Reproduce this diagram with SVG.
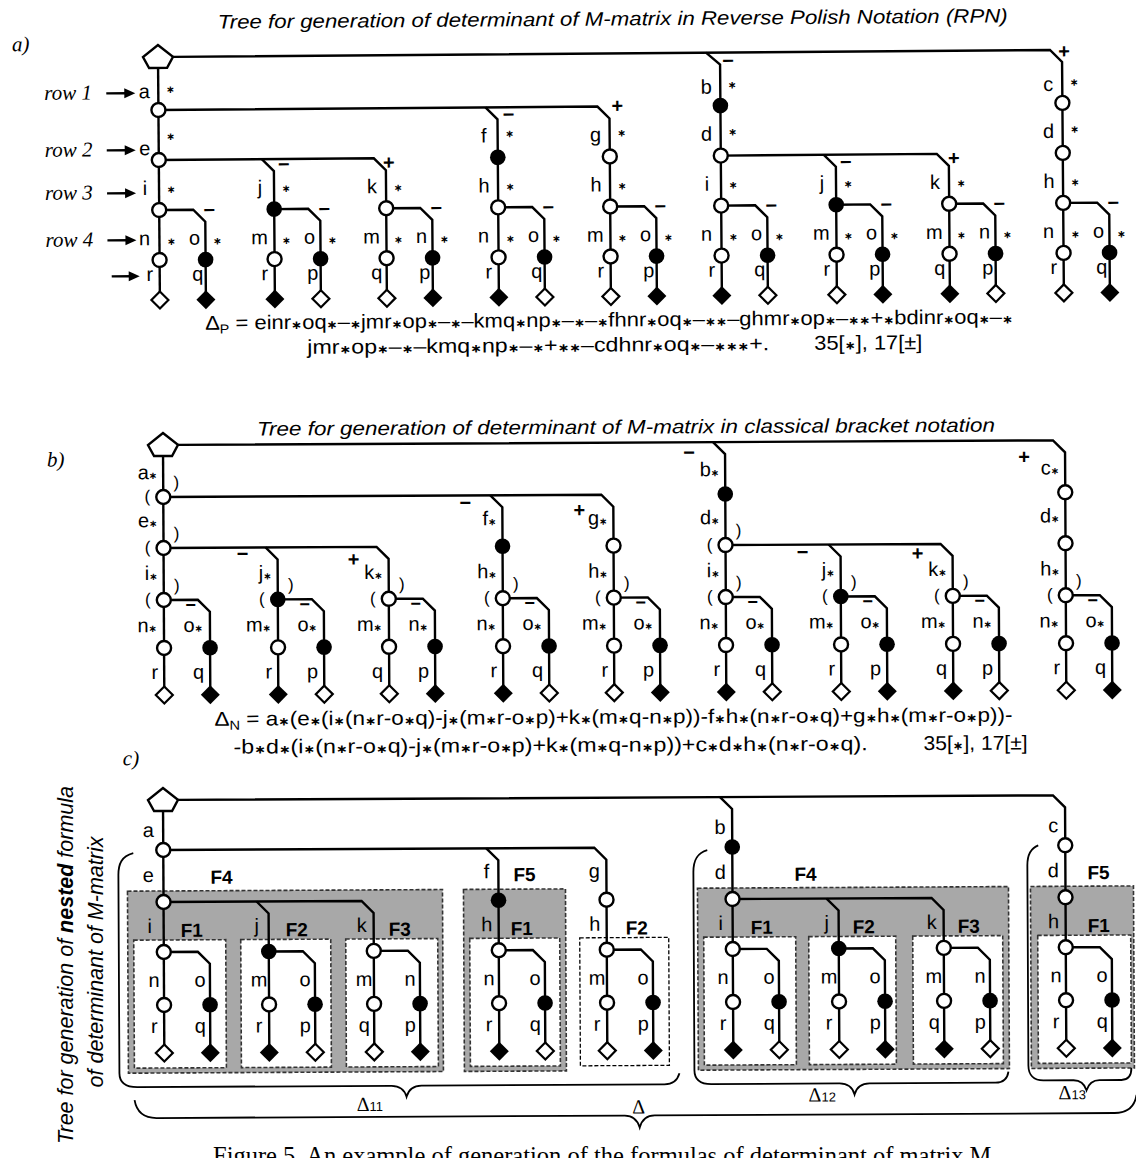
<svg xmlns="http://www.w3.org/2000/svg" xmlns:xlink="http://www.w3.org/1999/xlink" width="1136" height="1158" viewBox="0 0 1136 1158">
<style>
.c{fill:none;stroke:#000;stroke-width:2.4}
.L{font-family:"Liberation Sans",Arial,sans-serif;font-size:20px;fill:#000}
.m{text-anchor:middle}
.e{text-anchor:end}
.s{font-family:"DejaVu Sans",sans-serif;font-size:10.5px;font-weight:bold;text-anchor:middle}
.sm{font-family:"DejaVu Sans",sans-serif;font-size:10px;font-weight:bold}
.x{font-family:"DejaVu Sans",sans-serif;font-size:12px;font-weight:bold}
.sg{font-family:"Liberation Sans",Arial,sans-serif;font-size:20px;font-weight:bold;text-anchor:middle}
.sg2{font-family:"Liberation Sans",Arial,sans-serif;font-size:18px;font-weight:bold;text-anchor:middle}
.pr{font-family:"Liberation Sans",Arial,sans-serif;font-size:17px;text-anchor:middle}
.ti{font-family:"Liberation Sans",Arial,sans-serif;font-style:italic;font-size:19.5px}
.rw{font-family:"Liberation Serif","Times New Roman",serif;font-style:italic;font-size:21px}
.fm{font-family:"Liberation Sans",Arial,sans-serif;font-size:20px}
.F{font-family:"Liberation Sans",Arial,sans-serif;font-weight:bold;font-size:19px}
.gb{fill:#a8a8a8;stroke:#333;stroke-width:1.6;stroke-dasharray:4 2}
.wb{fill:#fff;stroke:#333;stroke-width:1.6;stroke-dasharray:4 2}
.dl{font-family:"Liberation Serif","Times New Roman",serif;font-size:20px}
.ds{font-family:"Liberation Sans",Arial,sans-serif;font-size:13px}
</style>
<defs>
<path id="pent" d="M0,-12 L15,0 L9,11 L-9,11 L-15,0 Z" fill="#fff" stroke="#000" stroke-width="2.4"/>
<circle id="oc" r="7" fill="#fff" stroke="#000" stroke-width="2.4"/>
<circle id="fc" r="7.8" fill="#000"/>
<path id="od" d="M0,-8.5 L8.5,0 L0,8.5 L-8.5,0 Z" fill="#fff" stroke="#000" stroke-width="2.2"/>
<path id="fd" d="M0,-9.5 L9.5,0 L0,9.5 L-9.5,0 Z" fill="#000"/>
</defs>

<!-- ================= PART A ================= -->
<g id="part-a" transform="rotate(-0.45 158 57)">
<text class="ti" x="218" y="29" textLength="790" lengthAdjust="spacingAndGlyphs">Tree for generation of determinant of M-matrix in Reverse Polish Notation (RPN)</text>
<text class="rw" x="12" y="50">a)</text>
<g id="A-rowlabels">
<text class="rw" x="44" y="99">row 1</text><path class="c" d="M106,93 H127"/><path d="M124,88 L135,93 L124,98 Z"/>
<text class="rw" x="44" y="156">row 2</text><path class="c" d="M106,150 H127"/><path d="M124,145 L135,150 L124,155 Z"/>
<text class="rw" x="44" y="199">row 3</text><path class="c" d="M106,193 H127"/><path d="M124,188 L135,193 L124,198 Z"/>
<text class="rw" x="44" y="246">row 4</text><path class="c" d="M106,240 H127"/><path d="M124,235 L135,240 L124,245 Z"/>
<path class="c" d="M110,276 H130"/><path d="M127,271 L138,276 L127,281 Z"/>
</g>
<g id="A-connectors">
<path class="c" d="M173,57 H1050 L1062,69 V300"/>
<path class="c" d="M706,57 L720,69 V300"/>
<path class="c" d="M158,68 V300"/>
<path class="c" d="M158,110 H597 L609,122 V300"/>
<path class="c" d="M485,110 L497,122 V300"/>
<path class="c" d="M158,160 H373 L385,172 V300"/>
<path class="c" d="M261,160 L273,172 V300"/>
<path class="c" d="M720,160 H936 L948,172 V300"/>
<path class="c" d="M823,160 L835,172 V300"/>
<path class="c" d="M158,210 H192 L204,222 V300"/>
<path class="c" d="M273,210 H307 L319,222 V300"/>
<path class="c" d="M385,210 H419 L431,222 V300"/>
<path class="c" d="M497,210 H531 L543,222 V300"/>
<path class="c" d="M609,210 H643 L655,222 V300"/>
<path class="c" d="M720,210 H754 L766,222 V300"/>
<path class="c" d="M835,210 H869 L881,222 V300"/>
<path class="c" d="M948,210 H982 L994,222 V300"/>
<path class="c" d="M1062,210 H1096 L1108,222 V300"/>
</g>
<g id="A-nodes">
<g id="A-root"><use href="#pent" x="158" y="57"/></g>
<g id="A-a"><use href="#oc" x="158" y="110"/></g>
<g id="A-e"><use href="#oc" x="158" y="160"/></g>
<g id="A-f"><use href="#fc" x="497" y="160"/></g>
<g id="A-g"><use href="#oc" x="609" y="160"/></g>
<g id="A-b"><use href="#fc" x="720" y="110"/></g>
<g id="A-bd"><use href="#oc" x="720" y="160"/></g>
<g id="A-c"><use href="#oc" x="1062" y="110"/></g>
<g id="A-cd"><use href="#oc" x="1062" y="160"/></g>
<g id="A-i"><use href="#oc" x="158" y="210"/></g>
<g id="A-i-n"><use href="#oc" x="158" y="260"/></g>
<g id="A-i-r"><use href="#od" x="158" y="300"/></g>
<g id="A-i-o"><use href="#fc" x="204" y="260"/></g>
<g id="A-i-q"><use href="#fd" x="204" y="300"/></g>
<g id="A-j"><use href="#fc" x="273" y="210"/></g>
<g id="A-j-m"><use href="#oc" x="273" y="260"/></g>
<g id="A-j-r"><use href="#fd" x="273" y="300"/></g>
<g id="A-j-o"><use href="#fc" x="319" y="260"/></g>
<g id="A-j-p"><use href="#od" x="319" y="300"/></g>
<g id="A-k"><use href="#oc" x="385" y="210"/></g>
<g id="A-k-m"><use href="#oc" x="385" y="260"/></g>
<g id="A-k-q"><use href="#od" x="385" y="300"/></g>
<g id="A-k-n"><use href="#fc" x="431" y="260"/></g>
<g id="A-k-p"><use href="#fd" x="431" y="300"/></g>
<g id="A-fh"><use href="#oc" x="497" y="210"/></g>
<g id="A-fh-n"><use href="#oc" x="497" y="260"/></g>
<g id="A-fh-r"><use href="#fd" x="497" y="300"/></g>
<g id="A-fh-o"><use href="#fc" x="543" y="260"/></g>
<g id="A-fh-q"><use href="#od" x="543" y="300"/></g>
<g id="A-gh"><use href="#oc" x="609" y="210"/></g>
<g id="A-gh-m"><use href="#oc" x="609" y="260"/></g>
<g id="A-gh-r"><use href="#od" x="609" y="300"/></g>
<g id="A-gh-o"><use href="#fc" x="655" y="260"/></g>
<g id="A-gh-p"><use href="#fd" x="655" y="300"/></g>
<g id="A-bi"><use href="#oc" x="720" y="210"/></g>
<g id="A-bi-n"><use href="#oc" x="720" y="260"/></g>
<g id="A-bi-r"><use href="#fd" x="720" y="300"/></g>
<g id="A-bi-o"><use href="#fc" x="766" y="260"/></g>
<g id="A-bi-q"><use href="#od" x="766" y="300"/></g>
<g id="A-bj"><use href="#fc" x="835" y="210"/></g>
<g id="A-bj-m"><use href="#oc" x="835" y="260"/></g>
<g id="A-bj-r"><use href="#od" x="835" y="300"/></g>
<g id="A-bj-o"><use href="#fc" x="881" y="260"/></g>
<g id="A-bj-p"><use href="#fd" x="881" y="300"/></g>
<g id="A-bk"><use href="#oc" x="948" y="210"/></g>
<g id="A-bk-m"><use href="#oc" x="948" y="260"/></g>
<g id="A-bk-q"><use href="#fd" x="948" y="300"/></g>
<g id="A-bk-n"><use href="#fc" x="994" y="260"/></g>
<g id="A-bk-p"><use href="#od" x="994" y="300"/></g>
<g id="A-ch"><use href="#oc" x="1062" y="210"/></g>
<g id="A-ch-n"><use href="#oc" x="1062" y="260"/></g>
<g id="A-ch-r"><use href="#od" x="1062" y="300"/></g>
<g id="A-ch-o"><use href="#fc" x="1108" y="260"/></g>
<g id="A-ch-q"><use href="#fd" x="1108" y="300"/></g>
</g>
<g id="A-labels" class="L m">
<text x="144" y="98">a</text><text x="706" y="98">b</text><text x="1048" y="98">c</text>
<text x="144" y="155">e</text><text x="483" y="145">f</text><text x="595" y="145">g</text><text x="706" y="145">d</text><text x="1048" y="145">d</text>
<text x="144" y="195">i</text><text x="259" y="195">j</text><text x="371" y="195">k</text><text x="483" y="195">h</text><text x="595" y="195">h</text><text x="706" y="195">i</text><text x="821" y="195">j</text><text x="934" y="195">k</text><text x="1048" y="195">h</text>
<text x="143" y="245">n</text><text x="258" y="245">m</text><text x="370" y="245">m</text><text x="482" y="245">n</text><text x="594" y="245">m</text><text x="705" y="245">n</text><text x="820" y="245">m</text><text x="933" y="245">m</text><text x="1047" y="245">n</text>
<text x="193" y="245">o</text><text x="308" y="245">o</text><text x="420" y="245">n</text><text x="532" y="245">o</text><text x="644" y="245">o</text><text x="755" y="245">o</text><text x="870" y="245">o</text><text x="983" y="245">n</text><text x="1097" y="245">o</text>
<text x="148" y="281">r</text><text x="263" y="281">r</text><text x="375" y="281">q</text><text x="487" y="281">r</text><text x="599" y="281">r</text><text x="710" y="281">r</text><text x="825" y="281">r</text><text x="938" y="281">q</text><text x="1052" y="281">r</text>
<text x="196" y="281">q</text><text x="311" y="281">p</text><text x="423" y="281">p</text><text x="535" y="281">q</text><text x="647" y="281">p</text><text x="758" y="281">q</text><text x="873" y="281">p</text><text x="986" y="281">p</text><text x="1100" y="281">q</text>
</g>
<g id="A-stars" class="s">
<text x="170" y="93">∗</text><text x="732" y="93">∗</text><text x="1074" y="93">∗</text>
<text x="170" y="140">∗</text><text x="509" y="140">∗</text><text x="621" y="140">∗</text><text x="732" y="140">∗</text><text x="1074" y="140">∗</text>
<text x="170" y="193">∗</text><text x="285" y="193">∗</text><text x="397" y="193">∗</text><text x="509" y="193">∗</text><text x="621" y="193">∗</text><text x="732" y="193">∗</text><text x="847" y="193">∗</text><text x="960" y="193">∗</text><text x="1074" y="193">∗</text>
<text x="170" y="245">∗</text><text x="285" y="245">∗</text><text x="397" y="245">∗</text><text x="509" y="245">∗</text><text x="621" y="245">∗</text><text x="732" y="245">∗</text><text x="847" y="245">∗</text><text x="960" y="245">∗</text><text x="1074" y="245">∗</text>
<text x="216" y="245">∗</text><text x="331" y="245">∗</text><text x="443" y="245">∗</text><text x="555" y="245">∗</text><text x="667" y="245">∗</text><text x="778" y="245">∗</text><text x="893" y="245">∗</text><text x="1006" y="245">∗</text><text x="1120" y="245">∗</text>
</g>
<g id="A-signs" class="sg">
<text x="728" y="72">−</text><text x="508" y="124">−</text><text x="283" y="172">−</text><text x="845" y="174">−</text>
<text x="208" y="217">−</text><text x="323" y="217">−</text><text x="435" y="217">−</text><text x="547" y="217">−</text><text x="659" y="217">−</text><text x="770" y="217">−</text><text x="885" y="217">−</text><text x="998" y="217">−</text><text x="1112" y="217">−</text>
<text x="1064" y="65">+</text><text x="617" y="116">+</text><text x="388" y="171">+</text><text x="953" y="171">+</text>
</g>
<g id="A-formula" class="fm">
<text x="203" y="330" textLength="808" lengthAdjust="spacingAndGlyphs">Δ<tspan font-size="13" dy="4">P</tspan><tspan dy="-4"> = einr<tspan class="x">∗</tspan>oq<tspan class="x">∗</tspan>–<tspan class="x">∗</tspan>jmr<tspan class="x">∗</tspan>op<tspan class="x">∗</tspan>–<tspan class="x">∗</tspan>–kmq<tspan class="x">∗</tspan>np<tspan class="x">∗</tspan>–<tspan class="x">∗</tspan>–<tspan class="x">∗</tspan>fhnr<tspan class="x">∗</tspan>oq<tspan class="x">∗</tspan>–<tspan class="x">∗∗</tspan>–ghmr<tspan class="x">∗</tspan>op<tspan class="x">∗</tspan>–<tspan class="x">∗∗</tspan>+<tspan class="x">∗</tspan>bdinr<tspan class="x">∗</tspan>oq<tspan class="x">∗</tspan>–<tspan class="x">∗</tspan></tspan></text>
<text x="305" y="355" textLength="462" lengthAdjust="spacingAndGlyphs">jmr<tspan class="x">∗</tspan>op<tspan class="x">∗</tspan>–<tspan class="x">∗</tspan>–kmq<tspan class="x">∗</tspan>np<tspan class="x">∗</tspan>–<tspan class="x">∗</tspan>+<tspan class="x">∗∗</tspan>–cdhnr<tspan class="x">∗</tspan>oq<tspan class="x">∗</tspan>–<tspan class="x">∗∗∗</tspan>+.</text>
<text x="812" y="355" textLength="108" lengthAdjust="spacingAndGlyphs">35[<tspan class="x">∗</tspan>], 17[±]</text>
</g>
</g>

<!-- ================= PART B ================= -->
<g id="part-b" transform="rotate(-0.3 163 445)">
<text class="ti" x="257" y="436" textLength="738" lengthAdjust="spacingAndGlyphs">Tree for generation of determinant of M-matrix in classical bracket notation</text>
<text class="rw" x="47" y="466">b)</text>
<g id="B-connectors">
<path class="c" d="M178,445 H1053 L1065,457 V695"/>
<path class="c" d="M713,445 L725,457 V695"/>
<path class="c" d="M163,456 V695"/>
<path class="c" d="M163,497 H601 L613,509 V695"/>
<path class="c" d="M490,497 L502,509 V695"/>
<path class="c" d="M163,548 H376 L388,560 V695"/>
<path class="c" d="M265,548 L277,560 V695"/>
<path class="c" d="M725,548 H940 L952,560 V695"/>
<path class="c" d="M828,548 L840,560 V695"/>
<path class="c" d="M163,600 H197 L209,612 V695"/>
<path class="c" d="M277,600 H311 L323,612 V695"/>
<path class="c" d="M388,600 H422 L434,612 V695"/>
<path class="c" d="M502,600 H536 L548,612 V695"/>
<path class="c" d="M613,600 H647 L659,612 V695"/>
<path class="c" d="M725,600 H759 L771,612 V695"/>
<path class="c" d="M840,600 H874 L886,612 V695"/>
<path class="c" d="M952,600 H986 L998,612 V695"/>
<path class="c" d="M1065,600 H1099 L1111,612 V695"/>
</g>
<g id="B-nodes">
<g id="B-root"><use href="#pent" x="163" y="445"/></g>
<g id="B-a"><use href="#oc" x="163" y="497"/></g>
<g id="B-e"><use href="#oc" x="163" y="548"/></g>
<g id="B-f"><use href="#fc" x="502" y="548"/></g>
<g id="B-g"><use href="#oc" x="613" y="548"/></g>
<g id="B-b"><use href="#fc" x="725" y="497"/></g>
<g id="B-bd"><use href="#oc" x="725" y="548"/></g>
<g id="B-c"><use href="#oc" x="1065" y="497"/></g>
<g id="B-cd"><use href="#oc" x="1065" y="548"/></g>
<g id="B-i"><use href="#oc" x="163" y="600"/></g>
<g id="B-i-n"><use href="#oc" x="163" y="648"/></g>
<g id="B-i-r"><use href="#od" x="163" y="695"/></g>
<g id="B-i-o"><use href="#fc" x="209" y="648"/></g>
<g id="B-i-q"><use href="#fd" x="209" y="695"/></g>
<g id="B-j"><use href="#fc" x="277" y="600"/></g>
<g id="B-j-m"><use href="#oc" x="277" y="648"/></g>
<g id="B-j-r"><use href="#fd" x="277" y="695"/></g>
<g id="B-j-o"><use href="#fc" x="323" y="648"/></g>
<g id="B-j-p"><use href="#od" x="323" y="695"/></g>
<g id="B-k"><use href="#oc" x="388" y="600"/></g>
<g id="B-k-m"><use href="#oc" x="388" y="648"/></g>
<g id="B-k-q"><use href="#od" x="388" y="695"/></g>
<g id="B-k-n"><use href="#fc" x="434" y="648"/></g>
<g id="B-k-p"><use href="#fd" x="434" y="695"/></g>
<g id="B-fh"><use href="#oc" x="502" y="600"/></g>
<g id="B-fh-n"><use href="#oc" x="502" y="648"/></g>
<g id="B-fh-r"><use href="#fd" x="502" y="695"/></g>
<g id="B-fh-o"><use href="#fc" x="548" y="648"/></g>
<g id="B-fh-q"><use href="#od" x="548" y="695"/></g>
<g id="B-gh"><use href="#oc" x="613" y="600"/></g>
<g id="B-gh-m"><use href="#oc" x="613" y="648"/></g>
<g id="B-gh-r"><use href="#od" x="613" y="695"/></g>
<g id="B-gh-o"><use href="#fc" x="659" y="648"/></g>
<g id="B-gh-p"><use href="#fd" x="659" y="695"/></g>
<g id="B-bi"><use href="#oc" x="725" y="600"/></g>
<g id="B-bi-n"><use href="#oc" x="725" y="648"/></g>
<g id="B-bi-r"><use href="#fd" x="725" y="695"/></g>
<g id="B-bi-o"><use href="#fc" x="771" y="648"/></g>
<g id="B-bi-q"><use href="#od" x="771" y="695"/></g>
<g id="B-bj"><use href="#fc" x="840" y="600"/></g>
<g id="B-bj-m"><use href="#oc" x="840" y="648"/></g>
<g id="B-bj-r"><use href="#od" x="840" y="695"/></g>
<g id="B-bj-o"><use href="#fc" x="886" y="648"/></g>
<g id="B-bj-p"><use href="#fd" x="886" y="695"/></g>
<g id="B-bk"><use href="#oc" x="952" y="600"/></g>
<g id="B-bk-m"><use href="#oc" x="952" y="648"/></g>
<g id="B-bk-q"><use href="#fd" x="952" y="695"/></g>
<g id="B-bk-n"><use href="#fc" x="998" y="648"/></g>
<g id="B-bk-p"><use href="#od" x="998" y="695"/></g>
<g id="B-ch"><use href="#oc" x="1065" y="600"/></g>
<g id="B-ch-n"><use href="#oc" x="1065" y="648"/></g>
<g id="B-ch-r"><use href="#od" x="1065" y="695"/></g>
<g id="B-ch-o"><use href="#fc" x="1111" y="648"/></g>
<g id="B-ch-q"><use href="#fd" x="1111" y="695"/></g>
</g>
<g id="B-labels" class="L e">
<text x="157" y="479">a<tspan class="sm">∗</tspan></text><text x="719" y="479">b<tspan class="sm">∗</tspan></text><text x="1059" y="479">c<tspan class="sm">∗</tspan></text>
<text x="157" y="527">e<tspan class="sm">∗</tspan></text><text x="496" y="527">f<tspan class="sm">∗</tspan></text><text x="607" y="527">g<tspan class="sm">∗</tspan></text><text x="719" y="527">d<tspan class="sm">∗</tspan></text><text x="1059" y="527">d<tspan class="sm">∗</tspan></text>
<text x="157" y="580">i<tspan class="sm">∗</tspan></text><text x="271" y="580">j<tspan class="sm">∗</tspan></text><text x="382" y="580">k<tspan class="sm">∗</tspan></text><text x="496" y="580">h<tspan class="sm">∗</tspan></text><text x="607" y="580">h<tspan class="sm">∗</tspan></text><text x="719" y="580">i<tspan class="sm">∗</tspan></text><text x="834" y="580">j<tspan class="sm">∗</tspan></text><text x="946" y="580">k<tspan class="sm">∗</tspan></text><text x="1059" y="580">h<tspan class="sm">∗</tspan></text>
<text x="156" y="632">n<tspan class="sm">∗</tspan></text><text x="270" y="632">m<tspan class="sm">∗</tspan></text><text x="381" y="632">m<tspan class="sm">∗</tspan></text><text x="495" y="632">n<tspan class="sm">∗</tspan></text><text x="606" y="632">m<tspan class="sm">∗</tspan></text><text x="718" y="632">n<tspan class="sm">∗</tspan></text><text x="833" y="632">m<tspan class="sm">∗</tspan></text><text x="945" y="632">m<tspan class="sm">∗</tspan></text><text x="1058" y="632">n<tspan class="sm">∗</tspan></text>
<text x="202" y="632">o<tspan class="sm">∗</tspan></text><text x="316" y="632">o<tspan class="sm">∗</tspan></text><text x="427" y="632">n<tspan class="sm">∗</tspan></text><text x="541" y="632">o<tspan class="sm">∗</tspan></text><text x="652" y="632">o<tspan class="sm">∗</tspan></text><text x="764" y="632">o<tspan class="sm">∗</tspan></text><text x="879" y="632">o<tspan class="sm">∗</tspan></text><text x="991" y="632">n<tspan class="sm">∗</tspan></text><text x="1104" y="632">o<tspan class="sm">∗</tspan></text>
<text x="157" y="679">r</text><text x="271" y="679">r</text><text x="382" y="679">q</text><text x="496" y="679">r</text><text x="607" y="679">r</text><text x="719" y="679">r</text><text x="834" y="679">r</text><text x="946" y="679">q</text><text x="1059" y="679">r</text>
<text x="203" y="679">q</text><text x="317" y="679">p</text><text x="428" y="679">p</text><text x="542" y="679">q</text><text x="653" y="679">p</text><text x="765" y="679">q</text><text x="880" y="679">p</text><text x="992" y="679">p</text><text x="1105" y="679">q</text>
</g>
<g id="B-parens" class="pr">
<text x="147" y="502">(</text><text x="176" y="488">)</text>
<text x="147" y="553">(</text><text x="176" y="539">)</text>
<text x="147" y="605">(</text><text x="176" y="591">)</text>
<text x="261" y="605">(</text><text x="290" y="591">)</text>
<text x="372" y="605">(</text><text x="401" y="591">)</text>
<text x="486" y="605">(</text><text x="515" y="591">)</text>
<text x="597" y="605">(</text><text x="626" y="591">)</text>
<text x="709" y="553">(</text><text x="738" y="539">)</text>
<text x="709" y="605">(</text><text x="738" y="591">)</text>
<text x="824" y="605">(</text><text x="853" y="591">)</text>
<text x="936" y="605">(</text><text x="965" y="591">)</text>
<text x="1049" y="605">(</text><text x="1078" y="591">)</text>
</g>
<g id="B-signs" class="sg">
<text x="689" y="462">−</text><text x="465" y="511">−</text><text x="242" y="561">−</text><text x="802" y="562">−</text>
<text x="1024" y="468">+</text><text x="579" y="519">+</text><text x="353" y="567">+</text><text x="917" y="564">+</text>
</g>
<g id="B-unit-signs" class="sg2">
<text x="190" y="611">−</text><text x="304" y="611">−</text><text x="415" y="611">−</text><text x="529" y="611">−</text><text x="640" y="611">−</text><text x="752" y="611">−</text><text x="867" y="611">−</text><text x="979" y="611">−</text><text x="1092" y="611">−</text>
</g>
<g id="B-formula" class="fm">
<text x="213" y="726" textLength="798" lengthAdjust="spacingAndGlyphs">Δ<tspan font-size="13" dy="4">N</tspan><tspan dy="-4"> = a<tspan class="x">∗</tspan>(e<tspan class="x">∗</tspan>(i<tspan class="x">∗</tspan>(n<tspan class="x">∗</tspan>r-o<tspan class="x">∗</tspan>q)-j<tspan class="x">∗</tspan>(m<tspan class="x">∗</tspan>r-o<tspan class="x">∗</tspan>p)+k<tspan class="x">∗</tspan>(m<tspan class="x">∗</tspan>q-n<tspan class="x">∗</tspan>p))-f<tspan class="x">∗</tspan>h<tspan class="x">∗</tspan>(n<tspan class="x">∗</tspan>r-o<tspan class="x">∗</tspan>q)+g<tspan class="x">∗</tspan>h<tspan class="x">∗</tspan>(m<tspan class="x">∗</tspan>r-o<tspan class="x">∗</tspan>p))-</tspan></text>
<text x="232" y="754" textLength="634" lengthAdjust="spacingAndGlyphs">-b<tspan class="x">∗</tspan>d<tspan class="x">∗</tspan>(i<tspan class="x">∗</tspan>(n<tspan class="x">∗</tspan>r-o<tspan class="x">∗</tspan>q)-j<tspan class="x">∗</tspan>(m<tspan class="x">∗</tspan>r-o<tspan class="x">∗</tspan>p)+k<tspan class="x">∗</tspan>(m<tspan class="x">∗</tspan>q-n<tspan class="x">∗</tspan>p))+c<tspan class="x">∗</tspan>d<tspan class="x">∗</tspan>h<tspan class="x">∗</tspan>(n<tspan class="x">∗</tspan>r-o<tspan class="x">∗</tspan>q).</text>
<text x="922" y="754" textLength="104" lengthAdjust="spacingAndGlyphs">35[<tspan class="x">∗</tspan>], 17[±]</text>
</g>
</g>

<!-- ================= PART C ================= -->
<g id="part-c" transform="rotate(-0.3 163 800)">
<text class="rw" x="123" y="765">c)</text>
<g id="C-boxes">
<g id="C-F4a"><rect class="gb" x="127" y="891" width="315" height="182"/>
<rect class="wb" x="133" y="940" width="92" height="128"/>
<rect class="wb" x="240" y="940" width="90" height="128"/>
<rect class="wb" x="345" y="940" width="92" height="128"/></g>
<g id="C-F5a"><rect class="gb" x="463" y="891" width="102" height="182"/>
<rect class="wb" x="469" y="940" width="90" height="128"/></g>
<g id="C-F2g"><rect class="wb" x="579" y="940" width="89" height="128" style="stroke:#000;stroke-width:1.3"/></g>
<g id="C-F4b"><rect class="gb" x="697" y="891" width="311" height="182"/>
<rect class="wb" x="703" y="940" width="92" height="128"/>
<rect class="wb" x="808" y="940" width="87" height="128"/>
<rect class="wb" x="912" y="940" width="90" height="128"/></g>
<g id="C-F5c"><rect class="gb" x="1030" y="891" width="103" height="182"/>
<rect class="wb" x="1037" y="940" width="93" height="128"/></g>
</g>
<g id="C-connectors">
<path class="c" d="M178,800 H1053 L1065,812 V1053"/>
<path class="c" d="M720,800 L732,812 V1053"/>
<path class="c" d="M163,811 V1053"/>
<path class="c" d="M163,850 H594 L606,862 V1053"/>
<path class="c" d="M486,850 L498,862 V1053"/>
<path class="c" d="M163,902 H361 L373,914 V1053"/>
<path class="c" d="M256,902 L268,914 V1053"/>
<path class="c" d="M732,902 H931 L943,914 V1053"/>
<path class="c" d="M826,902 L838,914 V1053"/>
<path class="c" d="M163,952 H197 L209,964 V1053"/>
<path class="c" d="M268,952 H302 L314,964 V1053"/>
<path class="c" d="M373,952 H407 L419,964 V1053"/>
<path class="c" d="M498,952 H532 L544,964 V1053"/>
<path class="c" d="M606,952 H640 L652,964 V1053"/>
<path class="c" d="M732,952 H766 L778,964 V1053"/>
<path class="c" d="M838,952 H872 L884,964 V1053"/>
<path class="c" d="M943,952 H977 L989,964 V1053"/>
<path class="c" d="M1065,952 H1099 L1111,964 V1053"/>
</g>
<g id="C-nodes">
<g id="C-root"><use href="#pent" x="163" y="800"/></g>
<g id="C-a"><use href="#oc" x="163" y="850"/></g>
<g id="C-e"><use href="#oc" x="163" y="902"/></g>
<g id="C-f"><use href="#fc" x="498" y="902"/></g>
<g id="C-g"><use href="#oc" x="606" y="902"/></g>
<g id="C-b"><use href="#fc" x="732" y="850"/></g>
<g id="C-bd"><use href="#oc" x="732" y="902"/></g>
<g id="C-c"><use href="#oc" x="1065" y="850"/></g>
<g id="C-cd"><use href="#oc" x="1065" y="902"/></g>
<g id="C-i"><use href="#oc" x="163" y="952"/></g>
<g id="C-i-n"><use href="#oc" x="163" y="1005"/></g>
<g id="C-i-r"><use href="#od" x="163" y="1053"/></g>
<g id="C-i-o"><use href="#fc" x="209" y="1005"/></g>
<g id="C-i-q"><use href="#fd" x="209" y="1053"/></g>
<g id="C-j"><use href="#fc" x="268" y="952"/></g>
<g id="C-j-m"><use href="#oc" x="268" y="1005"/></g>
<g id="C-j-r"><use href="#fd" x="268" y="1053"/></g>
<g id="C-j-o"><use href="#fc" x="314" y="1005"/></g>
<g id="C-j-p"><use href="#od" x="314" y="1053"/></g>
<g id="C-k"><use href="#oc" x="373" y="952"/></g>
<g id="C-k-m"><use href="#oc" x="373" y="1005"/></g>
<g id="C-k-q"><use href="#od" x="373" y="1053"/></g>
<g id="C-k-n"><use href="#fc" x="419" y="1005"/></g>
<g id="C-k-p"><use href="#fd" x="419" y="1053"/></g>
<g id="C-fh"><use href="#oc" x="498" y="952"/></g>
<g id="C-fh-n"><use href="#oc" x="498" y="1005"/></g>
<g id="C-fh-r"><use href="#fd" x="498" y="1053"/></g>
<g id="C-fh-o"><use href="#fc" x="544" y="1005"/></g>
<g id="C-fh-q"><use href="#od" x="544" y="1053"/></g>
<g id="C-gh"><use href="#oc" x="606" y="952"/></g>
<g id="C-gh-m"><use href="#oc" x="606" y="1005"/></g>
<g id="C-gh-r"><use href="#od" x="606" y="1053"/></g>
<g id="C-gh-o"><use href="#fc" x="652" y="1005"/></g>
<g id="C-gh-p"><use href="#fd" x="652" y="1053"/></g>
<g id="C-bi"><use href="#oc" x="732" y="952"/></g>
<g id="C-bi-n"><use href="#oc" x="732" y="1005"/></g>
<g id="C-bi-r"><use href="#fd" x="732" y="1053"/></g>
<g id="C-bi-o"><use href="#fc" x="778" y="1005"/></g>
<g id="C-bi-q"><use href="#od" x="778" y="1053"/></g>
<g id="C-bj"><use href="#fc" x="838" y="952"/></g>
<g id="C-bj-m"><use href="#oc" x="838" y="1005"/></g>
<g id="C-bj-r"><use href="#od" x="838" y="1053"/></g>
<g id="C-bj-o"><use href="#fc" x="884" y="1005"/></g>
<g id="C-bj-p"><use href="#fd" x="884" y="1053"/></g>
<g id="C-bk"><use href="#oc" x="943" y="952"/></g>
<g id="C-bk-m"><use href="#oc" x="943" y="1005"/></g>
<g id="C-bk-q"><use href="#fd" x="943" y="1053"/></g>
<g id="C-bk-n"><use href="#fc" x="989" y="1005"/></g>
<g id="C-bk-p"><use href="#od" x="989" y="1053"/></g>
<g id="C-ch"><use href="#oc" x="1065" y="952"/></g>
<g id="C-ch-n"><use href="#oc" x="1065" y="1005"/></g>
<g id="C-ch-r"><use href="#od" x="1065" y="1053"/></g>
<g id="C-ch-o"><use href="#fc" x="1111" y="1005"/></g>
<g id="C-ch-q"><use href="#fd" x="1111" y="1053"/></g>
</g>
<g id="C-labels" class="L m">
<text x="148" y="837">a</text><text x="720" y="837">b</text><text x="1053" y="837">c</text>
<text x="148" y="882">e</text><text x="486" y="880">f</text><text x="594" y="880">g</text><text x="720" y="882">d</text><text x="1053" y="882">d</text>
<text x="149" y="933">i</text><text x="256" y="933">j</text><text x="361" y="933">k</text><text x="486" y="933">h</text><text x="594" y="933">h</text><text x="720" y="933">i</text><text x="826" y="933">j</text><text x="931" y="933">k</text><text x="1053" y="933">h</text>
<text x="153" y="987">n</text><text x="258" y="987">m</text><text x="363" y="987">m</text><text x="488" y="987">n</text><text x="596" y="987">m</text><text x="722" y="987">n</text><text x="828" y="987">m</text><text x="933" y="987">m</text><text x="1055" y="987">n</text>
<text x="199" y="987">o</text><text x="304" y="987">o</text><text x="409" y="987">n</text><text x="534" y="987">o</text><text x="642" y="987">o</text><text x="768" y="987">o</text><text x="874" y="987">o</text><text x="979" y="987">n</text><text x="1101" y="987">o</text>
<text x="153" y="1033">r</text><text x="258" y="1033">r</text><text x="363" y="1033">q</text><text x="488" y="1033">r</text><text x="596" y="1033">r</text><text x="722" y="1033">r</text><text x="828" y="1033">r</text><text x="933" y="1033">q</text><text x="1055" y="1033">r</text>
<text x="199" y="1033">q</text><text x="304" y="1033">p</text><text x="409" y="1033">p</text><text x="534" y="1033">q</text><text x="642" y="1033">p</text><text x="768" y="1033">q</text><text x="874" y="1033">p</text><text x="979" y="1033">p</text><text x="1101" y="1033">q</text>
</g>
<g id="C-flabels" class="F">
<text x="210" y="884">F4</text><text x="513" y="883">F5</text><text x="794" y="884">F4</text><text x="1087" y="884">F5</text>
<text x="180" y="937">F1</text><text x="285" y="937">F2</text><text x="388" y="937">F3</text>
<text x="510" y="937">F1</text><text x="625" y="937">F2</text>
<text x="750" y="937">F1</text><text x="852" y="937">F2</text><text x="957" y="937">F3</text>
<text x="1087" y="937">F1</text>
</g>
<g id="C-braces">
<path class="c" style="stroke-width:1.8" d="M133,853 C121,856 118,864 118,875 V1073 C118,1082 124,1087 136,1087 H390 C398,1087 403,1091 405,1098 C407,1091 412,1087 420,1087 H663 C671,1087 676,1083 678,1076"/>
<path class="c" style="stroke-width:1.8" d="M707,853 C696,856 693,864 693,875 V1073 C693,1082 698,1087 710,1087 H838 C846,1087 851,1091 853,1098 C855,1091 860,1087 868,1087 H994 C1002,1087 1006,1083 1007,1076"/>
<path class="c" style="stroke-width:1.8" d="M1038,850 C1030,853 1027,860 1027,870 V1070 C1027,1079 1032,1085 1042,1085 H1072 C1079,1085 1083,1089 1085,1095 C1087,1089 1091,1085 1098,1085 H1120 C1127,1085 1130,1080 1130,1073"/>
<path class="c" style="stroke-width:1.8" d="M133,1100 C135,1112 142,1118 155,1118 H623 C631,1118 636,1123 638,1130 C640,1123 645,1118 653,1118 H1113 C1126,1118 1133,1112 1135,1100"/>
<text class="dl" x="355" y="1112">Δ<tspan class="ds">11</tspan></text>
<text class="dl" x="807" y="1105">Δ<tspan class="ds">12</tspan></text>
<text class="dl" x="1057" y="1104">Δ<tspan class="ds">13</tspan></text>
<text class="dl" x="637" y="1116" text-anchor="middle">Δ</text>
</g>
</g>

<g id="side-title" style="font-family:'Liberation Sans',Arial,sans-serif;font-style:italic;font-size:21.5px;text-anchor:middle">
<text transform="translate(73,965) rotate(-90)">Tree for generation of <tspan font-weight="bold">nested</tspan> formula</text>
<text transform="translate(103,962) rotate(-90)">of determinant of M-matrix</text>
</g>
<text x="213" y="1164" style="font-family:'Liberation Serif','Times New Roman',serif;font-size:24.5px">Figure 5. An example of generation of the formulas of determinant of matrix M</text>
</svg>
